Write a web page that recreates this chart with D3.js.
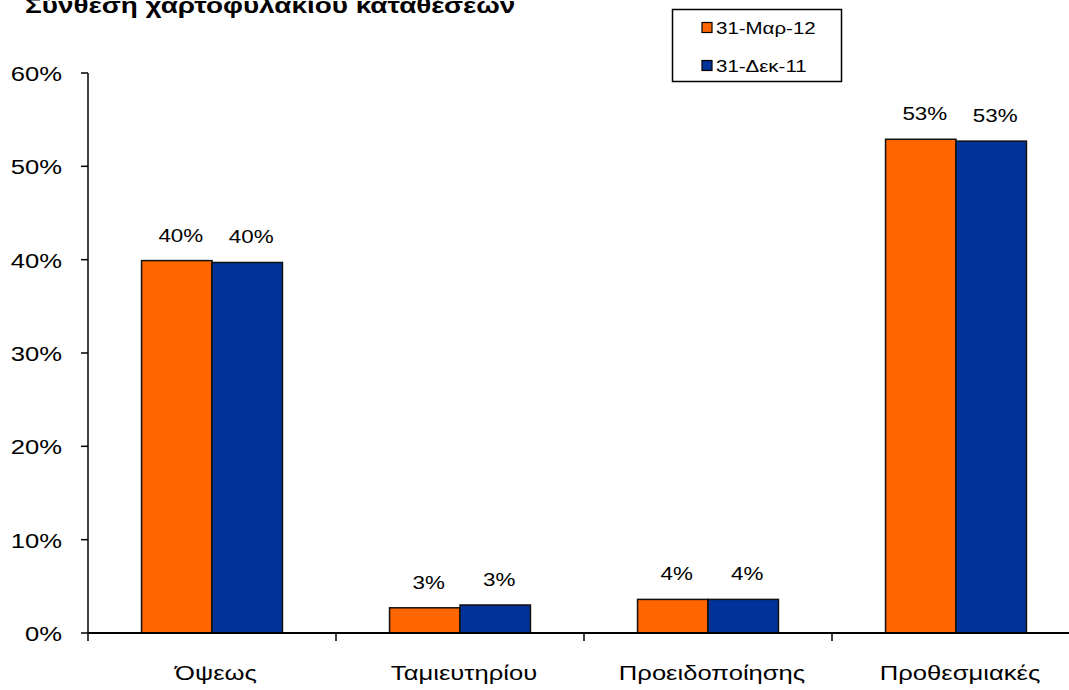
<!DOCTYPE html>
<html>
<head>
<meta charset="utf-8">
<script src="https://cdn.jsdelivr.net/npm/d3@7"></script>
<style>
  html, body { margin: 0; padding: 0; background: #fff; }
  svg { display: block; }
  text { font-family: "Liberation Sans", Arial, Helvetica, sans-serif; fill: #000; }
</style>
</head>
<body>
<svg id="chart" width="1069" height="690"></svg>
<script>
// Deposit portfolio composition, two reporting dates
const categories = ["Όψεως", "Ταμιευτηρίου", "Προειδοποίησης", "Προθεσμιακές"];
const seriesNames = ["31-Μαρ-12", "31-Δεκ-11"];
const valuesMar12 = [0.399, 0.027, 0.036, 0.529];
const valuesDec11 = [0.397, 0.030, 0.036, 0.527];
const yTicks = [0, 0.1, 0.2, 0.3, 0.4, 0.5, 0.6];
const seriesColors = ["#FF6600", "#003399"];
const titleText = "Σύνθεση χαρτοφυλακίου καταθέσεων";

const series = [valuesMar12, valuesDec11];
const SX = 1.28; // horizontal text stretch

const svg = d3.select("#chart");

const x = d3.scaleBand().domain(categories).range([88, 88 + 4 * 248]).paddingInner(0).paddingOuter(0);
const xs = d3.scaleBand().domain(seriesNames).range([0, x.bandwidth()]).paddingInner(0).paddingOuter(0.76);
const y = d3.scaleLinear().domain([0, 0.6]).range([633, 73]);

const pct = d3.format(".0%");

function stretchedText(g, tx, ty, str, opts) {
  return g.append("text")
    .attr("transform", `translate(${tx},${ty}) scale(${SX},1)`)
    .attr("text-anchor", opts.anchor || "start")
    .style("font-size", opts.size + "px")
    .style("font-weight", opts.weight || "normal")
    .text(str);
}

// Title (runs against the top edge)
stretchedText(svg, 25, 13, titleText, { size: 21.8, weight: "bold" });

// Bars
categories.forEach((c, i) => {
  seriesNames.forEach((s, j) => {
    const v = series[j][i];
    svg.append("rect")
      .attr("x", x(c) + xs(s))
      .attr("y", y(v))
      .attr("width", xs.bandwidth())
      .attr("height", y(0) - y(v))
      .attr("fill", seriesColors[j])
      .attr("stroke", "#111")
      .attr("stroke-width", 1.5);
  });
});

// Value labels
categories.forEach((c, i) => {
  seriesNames.forEach((s, j) => {
    const v = series[j][i];
    stretchedText(svg, x(c) + xs(s) + xs.bandwidth() / 2 + 4, y(v) - 19, pct(v), { size: 17.5, anchor: "middle" });
  });
});

// Y axis
const yAxis = svg.append("g");
yAxis.append("line")
  .attr("x1", 88).attr("x2", 88)
  .attr("y1", y(0.6)).attr("y2", y(0))
  .attr("stroke", "#000").attr("stroke-width", 1.5);
yTicks.forEach(t => {
  yAxis.append("line")
    .attr("x1", 81).attr("x2", 88)
    .attr("y1", y(t)).attr("y2", y(t))
    .attr("stroke", "#000").attr("stroke-width", 1.5);
  stretchedText(yAxis, 62, y(t) + 8, pct(t), { size: 20, anchor: "end" });
});

// X axis
const xAxis = svg.append("g");
xAxis.append("line")
  .attr("x1", 88).attr("x2", 1069)
  .attr("y1", y(0)).attr("y2", y(0))
  .attr("stroke", "#000").attr("stroke-width", 2);
categories.forEach(c => {
  xAxis.append("line")
    .attr("x1", x(c)).attr("x2", x(c))
    .attr("y1", y(0)).attr("y2", y(0) + 8)
    .attr("stroke", "#000").attr("stroke-width", 1.5);
  stretchedText(xAxis, x(c) + x.bandwidth() / 2 + 4, 680, c, { size: 20, anchor: "middle" });
});

// Legend
const legend = svg.append("g");
legend.append("rect")
  .attr("x", 672.5).attr("y", 9.5).attr("width", 169).attr("height", 72)
  .attr("fill", "#fff").attr("stroke", "#000").attr("stroke-width", 1.5);
seriesNames.forEach((s, j) => {
  const cy = 28 + j * 38;
  legend.append("rect")
    .attr("x", 702).attr("y", cy - 5.5).attr("width", 10).attr("height", 10)
    .attr("fill", seriesColors[j]).attr("stroke", "#000").attr("stroke-width", 1.2);
  stretchedText(legend, 716, cy + 6, s, { size: 16 });
});
</script>
</body>
</html>
